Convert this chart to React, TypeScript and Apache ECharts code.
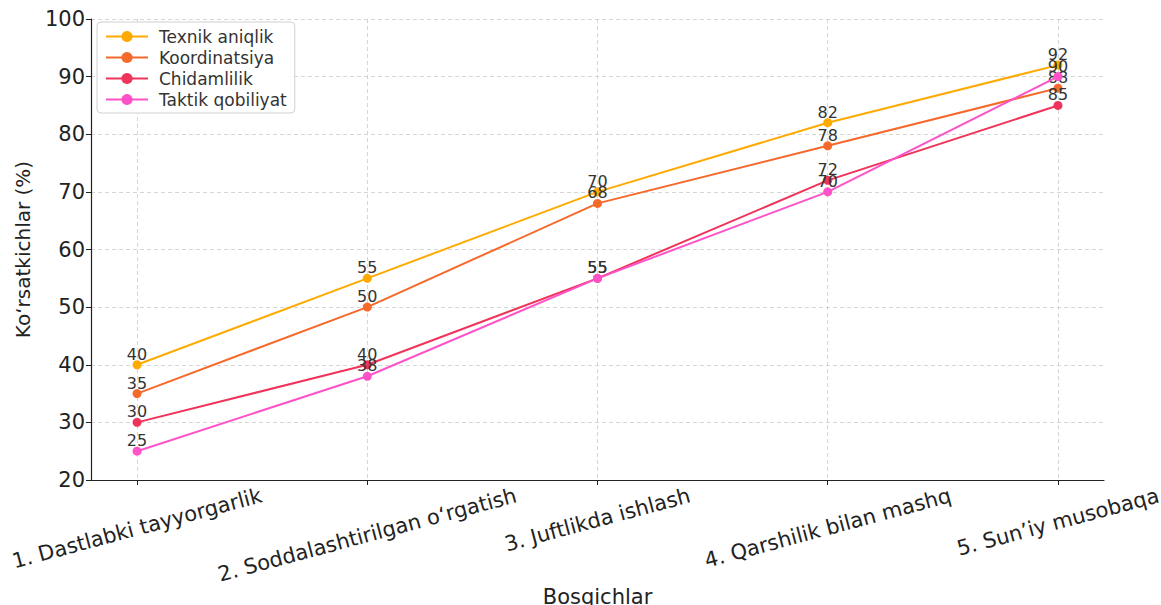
import React, { useEffect, useRef } from "react";
import * as echarts from "echarts";

const categories = [
  "1. Dastlabki tayyorgarlik",
  "2. Soddalashtirilgan o‘rgatish",
  "3. Juftlikda ishlash",
  "4. Qarshilik bilan mashq",
  "5. Sun’iy musobaqa",
];
const seriesNames = ["Texnik aniqlik", "Koordinatsiya", "Chidamlilik", "Taktik qobiliyat"];
const texnik = [40, 55, 70, 82, 92];
const koordinatsiya = [35, 50, 68, 78, 88];
const chidamlilik = [30, 40, 55, 72, 85];
const taktik = [25, 38, 55, 70, 90];
const colors = ["#FFAA00", "#F5692A", "#F0335A", "#FF52C8"];
const yTicks = [20, 30, 40, 50, 60, 70, 80, 90, 100];

const FONT = "DejaVu Sans";
const XLABEL_SIZE = 21;
const ROT = 15;

function measure(text: string, size: number): number {
  const c = document.createElement("canvas").getContext("2d");
  if (!c) return text.length * size * 0.55;
  c.font = `${size}px "${FONT}"`;
  return c.measureText(text).width;
}

export default function App() {
  const ref = useRef<HTMLDivElement>(null);
  useEffect(() => {
    if (!ref.current) return;
    const chart = echarts.init(ref.current, undefined, { renderer: "svg" });
    const all = [texnik, koordinatsiya, chidamlilik, taktik];
    const idx = categories.map((_, i) => i);
    const sinR = Math.sin((ROT * Math.PI) / 180);
    const cosR = Math.cos((ROT * Math.PI) / 180);
    // top-aligned rotated labels (like matplotlib ha=center, va=top)
    const margins = categories.map((c) => {
      const w = measure(c, XLABEL_SIZE);
      return 7 + (w / 2) * sinR + 0.4 * XLABEL_SIZE * cosR;
    });
    const base = { type: "value", min: -0.2, max: 4.2, position: "bottom" };
    const xAxes: any[] = idx.map((i) => ({
      ...base,
      show: true,
      name: i === 0 ? "Bosqichlar" : "",
      nameLocation: "middle",
      nameGap: 106,
      nameTextStyle: { fontFamily: FONT, fontSize: 21, color: "#222" },
      axisLine: { show: i === 0, onZero: false, lineStyle: { color: "#222", width: 1.2 } },
      axisTick: { show: i === 0, customValues: idx, length: 5, lineStyle: { color: "#222" } },
      axisLabel: {
        customValues: [i],
        rotate: ROT,
        align: "center",
        verticalAlign: "middle",
        margin: margins[i],
        fontFamily: FONT,
        fontSize: XLABEL_SIZE,
        color: "#222",
        formatter: (v: number) => categories[Math.round(v)] ?? "",
      },
      splitLine: {
        show: i === 0,
        lineStyle: { color: "#cccccc", type: [4, 3], width: 0.8 },
      },
    }));
    chart.setOption({
      animation: false,
      backgroundColor: "#ffffff",
      textStyle: { fontFamily: FONT },
      grid: { left: 91, right: 57, top: 19, bottom: 125, outerBoundsMode: "none" },
      legend: {
        orient: "vertical",
        left: 97,
        top: 22,
        padding: [6, 8, 5, 8],
        itemWidth: 42,
        itemHeight: 14,
        itemGap: 4,
        backgroundColor: "rgba(255,255,255,0.9)",
        borderColor: "#d0d0d0",
        borderWidth: 1,
        borderRadius: 4,
        textStyle: { fontFamily: FONT, fontSize: 17, color: "#333", padding: [0, 0, 0, 6] },
        data: seriesNames,
      },
      xAxis: xAxes,
      yAxis: {
        type: "value",
        min: 20,
        max: 100,
        interval: 10,
        name: "Ko‘rsatkichlar (%)",
        nameLocation: "middle",
        nameGap: 58,
        nameTextStyle: { fontFamily: FONT, fontSize: 20, color: "#222" },
        axisLine: { show: true, onZero: false, lineStyle: { color: "#222", width: 1.2 } },
        axisTick: { show: true, length: 5, lineStyle: { color: "#222" } },
        axisLabel: {
          margin: 6,
          fontFamily: FONT,
          fontSize: 21,
          color: "#222",
          formatter: (v: number) => (yTicks.includes(v) ? String(v) : ""),
        },
        splitLine: { show: true, lineStyle: { color: "#cccccc", type: [4, 3], width: 0.8 } },
      },
      series: all.map((vals, s) => ({
        name: seriesNames[s],
        type: "line",
        xAxisIndex: 0,
        data: vals.map((v, i) => [i, v]),
        symbol: "circle",
        symbolSize: 9,
        lineStyle: { color: colors[s], width: 2 },
        itemStyle: { color: colors[s] },
        label: {
          show: true,
          position: "top",
          distance: -2,
          fontFamily: FONT,
          fontSize: 16,
          color: "#333",
        },
        z: 2 + s,
      })),
    });
    return () => chart.dispose();
  }, []);
  return <div ref={ref} style={{ width: 1161, height: 605 }} />;
}

if (typeof document !== "undefined") {
  document.body.style.margin = "0";
}
